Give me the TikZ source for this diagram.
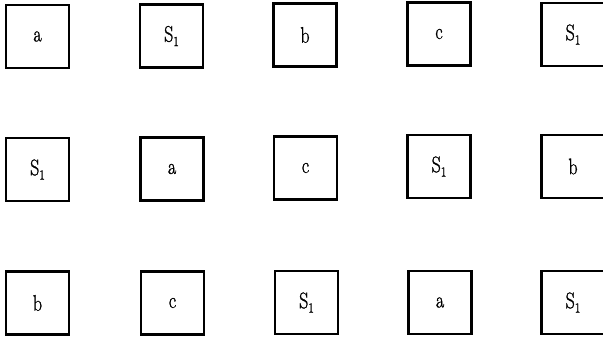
\documentclass[tikz,border=0pt]{standalone}
\usepackage{fontspec}
\usepackage{graphicx}
\newfontfamily\heavy{Latin Modern Roman}[FakeBold=1.3]
\begin{document}
\begin{tikzpicture}[x=1pt,y=-1pt,
  cell/.style={draw=black,line width=2.3pt,minimum width=63pt,minimum height=63pt,inner sep=0pt,
    font=\heavy\fontsize{18}{20}\selectfont}]
\useasboundingbox (0,0) rectangle (603,337);
\newcommand{\tl}[1]{\scalebox{1}[1.25]{#1}}
\newcommand{\sone}{\tl{S\raisebox{-3.5pt}{\fontsize{11}{11}\selectfont 1}}}
% row 1
\node[cell] (r1c1) at (37.5,36.5) {\tl{a}};
\node[cell] (r1c2) at (171.5,36) {\sone};
\node[cell] (r1c3) at (305,35) {\tl{b}};
\node[cell] (r1c4) at (439,34) {\tl{c}};
\node[cell] (r1c5) at (573,34.5) {\sone};
% row 2
\node[cell] (r2c1) at (37.5,169.5) {\sone};
\node[cell] (r2c2) at (172,169) {\tl{a}};
\node[cell] (r2c3) at (305.5,168) {\tl{c}};
\node[cell] (r2c4) at (439,166.5) {\sone};
\node[cell] (r2c5) at (573,166.5) {\tl{b}};
% row 3
\node[cell] (r3c1) at (37.5,303) {\tl{b}};
\node[cell] (r3c2) at (172.5,303) {\tl{c}};
\node[cell] (r3c3) at (306.5,302.5) {\sone};
\node[cell] (r3c4) at (440,302.5) {\tl{a}};
\node[cell] (r3c5) at (573,302.5) {\sone};
\end{tikzpicture}
\end{document}
